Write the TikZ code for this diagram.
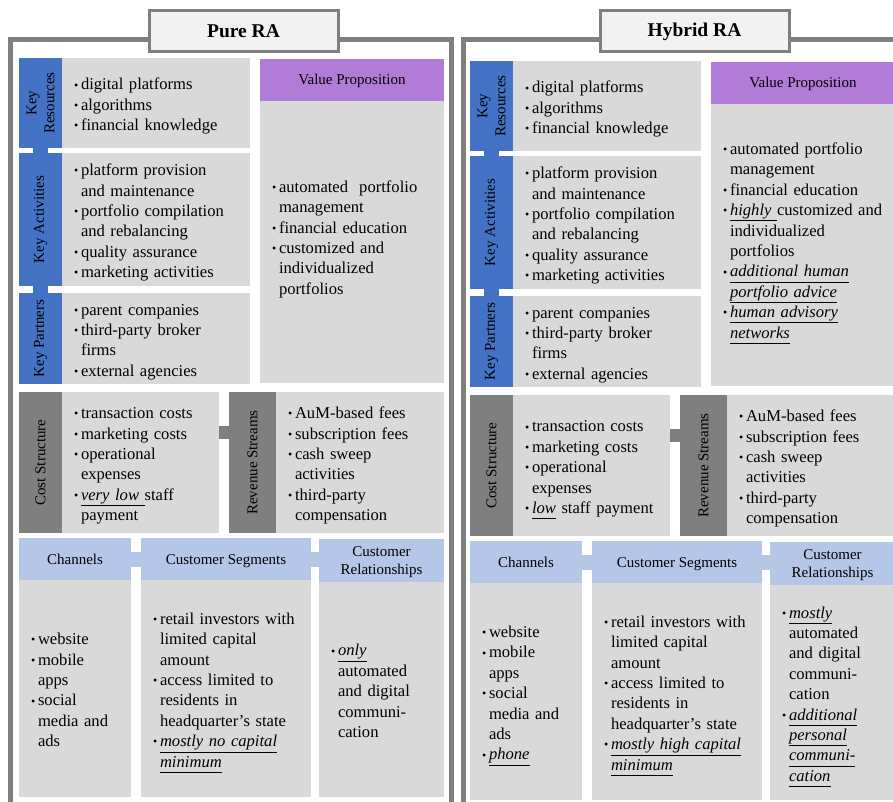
\documentclass[tikz,border=0pt]{standalone}
\usepackage{fontspec}
\setmainfont{Liberation Serif}
\definecolor{kblue}{HTML}{4472C4}
\definecolor{bodyg}{HTML}{D9D9D9}
\definecolor{darkg}{HTML}{7F7F7F}
\definecolor{vpurp}{HTML}{B07CD8}
\definecolor{lblue}{HTML}{B4C7E7}
\definecolor{frameg}{HTML}{7F7F7F}
\definecolor{titlef}{HTML}{F2F2F2}
\newcommand\lstr{\rule[-5.9pt]{0pt}{20.4pt}}
\newcommand\hstr{\rule[-4pt]{0pt}{18pt}}
\newcommand\itm[1]{\par\hangindent=7pt\hangafter=1\noindent\lstr\makebox[7pt][l]{\raisebox{0.8pt}{\fontsize{12}{12}\selectfont •}}#1\lstr\par}
\newcommand\ulit[1]{\underline{\textit{#1}\vphantom{gy}}}
\newcommand\bx[6]{\node[box, fill=#6, minimum width={(#4-#2)*1pt}, minimum height={(#5-#3)*1pt}, anchor=north west] (#1) at (#2,#3) {};}
\newcommand\bxt[7]{\node[hdr, fill=#6, minimum width={(#4-#2)*1pt}, minimum height={(#5-#3)*1pt}, anchor=north west] (#1) at (#2,#3) {#7};}
\begin{document}
\begin{tikzpicture}[x=1pt,y=-1pt,
  box/.style={inner sep=0pt, outer sep=0pt, draw=none},
  hdr/.style={box, align=center, font=\fontsize{15}{18}\selectfont},
  txt/.style={inner sep=0pt, outer sep=0pt, anchor=west, text width=220pt, align=left, font=\fontsize{16.6}{20.4}\selectfont},
  lab/.style={inner sep=0pt, align=center, rotate=90, font=\fontsize{15}{18}\selectfont},
  frameline/.style={draw=frameg, line width=4.5pt},
  titlebox/.style={draw=frameg, line width=3pt, fill=titlef, inner sep=0pt, minimum width=189pt, minimum height=41pt, anchor=north west, font=\fontsize{19.5}{22}\selectfont\bfseries},
  kconn/.style={draw=kblue, line width=15pt},
  gconn/.style={draw=darkg, line width=13pt},
  hconn/.style={draw=lblue, line width=15pt}]
\path[use as bounding box] (0,0) rectangle (893,802);
\clip (0,0) rectangle (893,802);
\fill[white] (0,0) rectangle (893,802);

% frames
\draw[frameline] (10.5,815) -- (10.5,39.5) -- (451.5,39.5) -- (451.5,815);
\draw[frameline] (463.5,815) -- (463.5,39.5) -- (905,39.5);
\node[titlebox] (ptitle) at (147.5,9.5) {Pure RA};
\node[titlebox] (htitle) at (598.5,9.5) {Hybrid RA};

% ================= PURE =================
\bx{pkrL}{19}{58}{62}{148}{kblue}
\bx{pkrB}{62}{58}{250}{148}{bodyg}
\bx{pkaL}{19}{153}{62}{286}{kblue}
\bx{pkaB}{62}{153}{250}{286}{bodyg}
\bx{pkpL}{19}{293}{62}{384}{kblue}
\bx{pkpB}{62}{293}{250}{384}{bodyg}
\bxt{pvpH}{260}{59}{444}{101}{vpurp}{\hstr Value Proposition}
\bx{pvpB}{260}{101}{444}{383}{bodyg}
\bx{pcsL}{19}{392}{62}{533}{darkg}
\bx{pcsB}{62}{392}{219}{533}{bodyg}
\bx{prsL}{229}{392}{276}{533}{darkg}
\bx{prsB}{276}{392}{444}{533}{bodyg}
\bxt{pchH}{19}{538}{131}{580}{lblue}{\hstr Channels}
\bx{pchB}{19}{580}{131}{797}{bodyg}
\bxt{psgH}{141}{538}{311}{580}{lblue}{\hstr Customer Segments}
\bx{psgB}{141}{580}{311}{797}{bodyg}
\bxt{pcrH}{319}{539}{444}{582}{lblue}{\hstr Customer\\Relationships\hstr}
\bx{pcrB}{319}{582}{444}{797}{bodyg}

\draw[kconn] (pkrL.south) -- (pkaL.north);
\draw[kconn] (pkaL.south) -- (pkpL.north);
\draw[gconn] ([yshift=30pt]pcsB.east) -- ([yshift=30pt]prsL.west);
\draw[hconn] (pchH.east) -- (psgH.west);
\draw[hconn] (psgH.east) -- (psgH.east -| pcrH.west);

\node[lab] (pkrLt) at (pkrL.center) {Key\\Resources};
\node[lab] (pkaLt) at (pkaL.center) {Key Activities};
\node[lab] (pkpLt) at (pkpL.center) {Key Partners};
\node[lab] (pcsLt) at (pcsL.center) {Cost Structure};
\node[lab] (prsLt) at (prsL.center) {Revenue Streams};

\node[txt] (pkrT) at ([xshift=12pt]pkrB.west) {\itm{digital platforms}\itm{algorithms}\itm{financial knowledge}};
\node[txt] (pkaT) at ([xshift=12pt]pkaB.west) {\itm{platform provision\newline and maintenance}\itm{portfolio compilation\newline and rebalancing}\itm{quality assurance}\itm{marketing activities}};
\node[txt] (pkpT) at ([xshift=12pt]pkpB.west) {\itm{parent companies}\itm{third-party broker\newline firms}\itm{external agencies}};
\node[txt] (pvpT) at ([xshift=12pt,yshift=6pt]pvpB.west) {\itm{automated\ \ portfolio\newline management}\itm{financial education}\itm{customized and\newline individualized\newline portfolios}};
\node[txt] (pcsT) at ([xshift=12pt]pcsB.west) {\itm{transaction costs}\itm{marketing costs}\itm{operational\newline expenses}\itm{\ulit{very low }staff\newline payment}};
\node[txt] (prsT) at ([xshift=12pt]prsB.west) {\itm{AuM-based fees}\itm{subscription fees}\itm{cash sweep\newline activities}\itm{third-party\newline compensation}};
\node[txt] (pchT) at ([xshift=12pt]pchB.west) {\itm{website}\itm{mobile\newline apps}\itm{social\newline media and\newline ads}};
\node[txt] (psgT) at ([xshift=12pt]psgB.west) {\itm{retail investors with\newline limited capital\newline amount}\itm{access limited to\newline residents in\newline headquarter’s state}\itm{\ulit{mostly no capital}\newline\ulit{minimum}}};
\node[txt] (pcrT) at ([xshift=12pt]pcrB.west) {\itm{\ulit{only}\newline automated\newline and digital\newline communi-\newline cation}};

% ================= HYBRID =================
\begin{scope}[shift={(451,3)}]
\bx{hkrL}{19}{58}{62}{148}{kblue}
\bx{hkrB}{62}{58}{250}{148}{bodyg}
\bx{hkaL}{19}{153}{62}{286}{kblue}
\bx{hkaB}{62}{153}{250}{286}{bodyg}
\bx{hkpL}{19}{293}{62}{384}{kblue}
\bx{hkpB}{62}{293}{250}{384}{bodyg}
\bxt{hvpH}{260}{59}{444}{101}{vpurp}{\hstr Value Proposition}
\bx{hvpB}{260}{101}{444}{383}{bodyg}
\bx{hcsL}{19}{392}{62}{533}{darkg}
\bx{hcsB}{62}{392}{219}{533}{bodyg}
\bx{hrsL}{229}{392}{276}{533}{darkg}
\bx{hrsB}{276}{392}{444}{533}{bodyg}
\bxt{hchH}{19}{538}{131}{580}{lblue}{\hstr Channels}
\bx{hchB}{19}{580}{131}{797}{bodyg}
\bxt{hsgH}{141}{538}{311}{580}{lblue}{\hstr Customer Segments}
\bx{hsgB}{141}{580}{311}{797}{bodyg}
\bxt{hcrH}{319}{539}{444}{582}{lblue}{\hstr Customer\\Relationships\hstr}
\bx{hcrB}{319}{582}{444}{797}{bodyg}

\draw[kconn] (hkrL.south) -- (hkaL.north);
\draw[kconn] (hkaL.south) -- (hkpL.north);
\draw[gconn] ([yshift=30pt]hcsB.east) -- ([yshift=30pt]hrsL.west);
\draw[hconn] (hchH.east) -- (hsgH.west);
\draw[hconn] (hsgH.east) -- (hsgH.east -| hcrH.west);

\node[lab] (hkrLt) at (hkrL.center) {Key\\Resources};
\node[lab] (hkaLt) at (hkaL.center) {Key Activities};
\node[lab] (hkpLt) at (hkpL.center) {Key Partners};
\node[lab] (hcsLt) at (hcsL.center) {Cost Structure};
\node[lab] (hrsLt) at (hrsL.center) {Revenue Streams};

\node[txt] (hkrT) at ([xshift=12pt]hkrB.west) {\itm{digital platforms}\itm{algorithms}\itm{financial knowledge}};
\node[txt] (hkaT) at ([xshift=12pt]hkaB.west) {\itm{platform provision\newline and maintenance}\itm{portfolio compilation\newline and rebalancing}\itm{quality assurance}\itm{marketing activities}};
\node[txt] (hkpT) at ([xshift=12pt]hkpB.west) {\itm{parent companies}\itm{third-party broker\newline firms}\itm{external agencies}};
\node[txt] (hvpT) at ([xshift=12pt,yshift=6pt]hvpB.west) {\itm{automated portfolio\newline management}\itm{financial education}\itm{\ulit{highly }customized and\newline individualized\newline portfolios}\itm{\ulit{additional human}\newline\ulit{portfolio advice}}\itm{\ulit{human advisory}\newline\ulit{networks}}};
\node[txt] (hcsT) at ([xshift=12pt]hcsB.west) {\itm{transaction costs}\itm{marketing costs}\itm{operational\newline expenses}\itm{\ulit{low} staff payment}};
\node[txt] (hrsT) at ([xshift=12pt]hrsB.west) {\itm{AuM-based fees}\itm{subscription fees}\itm{cash sweep\newline activities}\itm{third-party\newline compensation}};
\node[txt] (hchT) at ([xshift=12pt]hchB.west) {\itm{website}\itm{mobile\newline apps}\itm{social\newline media and\newline ads}\itm{\ulit{phone}}};
\node[txt] (hsgT) at ([xshift=12pt]hsgB.west) {\itm{retail investors with\newline limited capital\newline amount}\itm{access limited to\newline residents in\newline headquarter’s state}\itm{\ulit{mostly high capital}\newline\ulit{minimum}}};
\node[txt] (hcrT) at ([xshift=12pt]hcrB.west) {\itm{\ulit{mostly}\newline automated\newline and digital\newline communi-\newline cation}\itm{\ulit{additional}\newline\ulit{personal}\newline\ulit{communi-}\newline\ulit{cation}}};
\end{scope}
\end{tikzpicture}
\end{document}
